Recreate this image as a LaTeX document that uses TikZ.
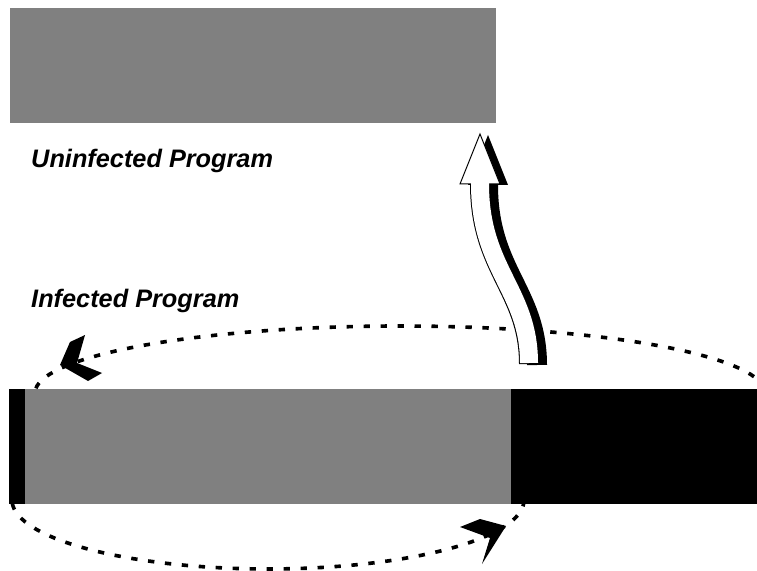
\documentclass[tikz,border=0pt]{standalone}
\usepackage{fontspec}
\setmainfont{Liberation Sans}
\usepackage{xcolor}
\usepackage{tikz}
\usetikzlibrary{shapes}

\definecolor{progGray}{RGB}{128,128,128}
\tikzset{
  progfill/.style={fill=progGray},
  loopdots/.style={line width=3.1pt, dash pattern=on 5.4pt off 9.1pt},
  progtext/.style={anchor=base west, inner sep=0pt,
    font=\fontsize{21.6}{26}\selectfont\bfseries\itshape}
}

\begin{document}
\begin{tikzpicture}[x=0.03cm, y=-0.03cm]
        \useasboundingbox (0,0) rectangle (757,571);

        \fill[progfill] (10,8) rectangle (496,123);
        \node[progtext] (uninf) at (31,168) {Uninfected Program};
        \node[progtext] (inf) at (31,308) {Infected Program};

        \fill[black] (9,389) rectangle (757,504);
        \fill[progfill] (25,389) rectangle (511,504);

        \draw[loopdots] plot[domain=176:12, samples=80]
            ({400+365*cos(\x)}, {393-67*sin(\x)});
        \draw[loopdots] plot[domain=177:3, samples=80]
            ({268+256*cos(\x)}, {500+69*sin(\x)});
        \fill (85,335) -- (70,342) -- (60,365) -- (88,381) -- (102,373) -- (77,363) -- cycle;
        \fill (460,527) -- (480,519) -- (506,526) -- (482,564) -- (490,538) -- cycle;

        \coordinate (shaftBot) at (529,364);
        \coordinate (shaftTop) at (480,184);
        \begin{scope}[shift={(8,1)}]
            \fill (460,184) -- (480,134) -- (500,184) -- cycle;
            \draw[line width=0.6cm] (529,364) .. controls (529,290) and (480,270) .. (480,184)
                -- ++(0,-3);
        \end{scope}
        \draw[line width=0.6cm] (shaftBot) .. controls (529,290) and (480,270) .. (shaftTop);
        \filldraw[fill=white, draw=black, line width=0.85pt]
            (460,184) -- (480,134) -- (500,184) -- cycle;
        \draw[white, line width=0.54cm] (529,363) .. controls (529,290) and (480,270) .. (shaftTop)
            -- ++(0,-3);
\end{tikzpicture}
\end{document}
